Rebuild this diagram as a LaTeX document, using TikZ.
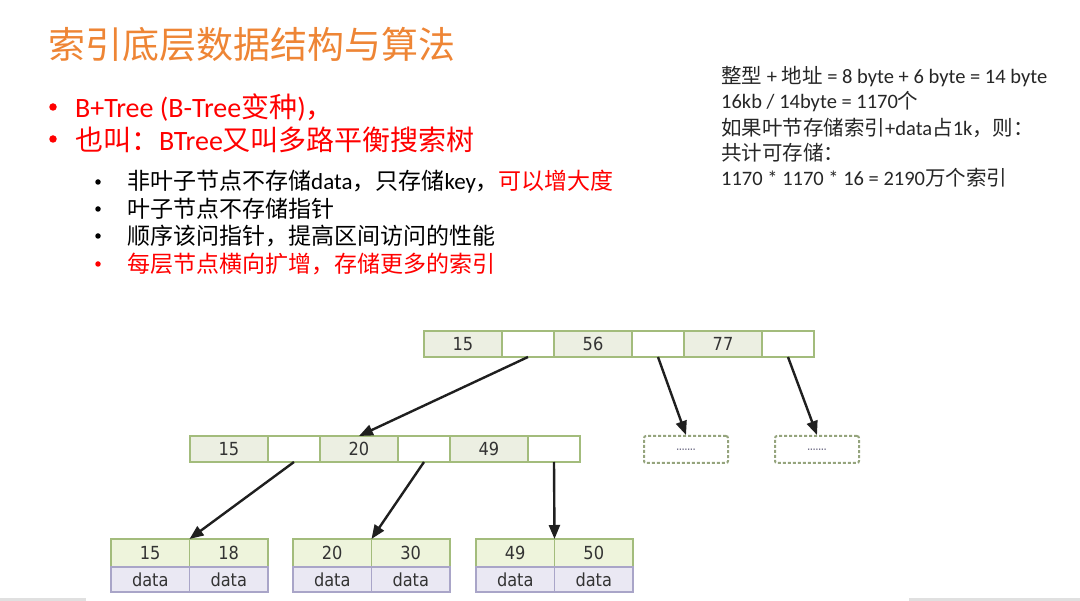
\documentclass[tikz,border=0pt]{standalone}
\usepackage{fontspec}
\setmainfont{Carlito}
\newfontfamily\cjk{Noto Sans CJK SC}
\newfontfamily\treefont{DejaVu Sans Condensed}
\usetikzlibrary{positioning, arrows.meta}

\definecolor{titleorange}{HTML}{EE8535}
\definecolor{keyfill}{HTML}{ECEFE2}
\definecolor{leaffill}{HTML}{EEF4DC}
\definecolor{datafill}{HTML}{EAE8F3}
\definecolor{treegreen}{HTML}{A3BC7C}
\definecolor{datalilac}{HTML}{A9A5C8}
\definecolor{treetext}{HTML}{333333}

\begin{document}
\begin{tikzpicture}[x=1pt, y=-1pt,
    cell/.style={draw=treegreen, line width=1.8pt, inner sep=0pt, outer sep=0pt,
      minimum height=26pt, font=\treefont\fontsize{18}{18}\selectfont, text=treetext},
    keycell/.style={cell, fill=keyfill, minimum width=78pt},
    ptrcell/.style={cell, fill=white, minimum width=52pt},
    leafkey/.style={cell, fill=leaffill, minimum width=78.5pt, minimum height=28pt},
    leafdata/.style={cell, draw=datalilac, fill=datafill, minimum width=78.5pt, minimum height=25pt},
    stub/.style={draw=treegreen!60!gray, line width=2pt, dash pattern=on 3pt off 2pt,
      rounded corners=2pt, minimum width=84pt, minimum height=27pt, inner sep=0pt,
      font=\treefont\bfseries\fontsize{8}{8}\selectfont, text=datalilac!70!black},
    link/.style={-{Triangle[length=14pt, width=11pt]}, line width=2.4pt, draw=black!88},
    bigdot/.style={circle, fill=red, inner sep=0pt, minimum size=7.5pt},
    smalldot/.style={circle, fill=black, inner sep=0pt, minimum size=5.5pt},
    head/.style={anchor=west, inner sep=0pt, font=\fontsize{28}{28}\selectfont, text=red},
    item/.style={anchor=west, inner sep=0pt, font=\fontsize{23}{23}\selectfont},
    note/.style={anchor=west, inner sep=0pt, font=\fontsize{20.5}{20.5}\selectfont, text=black!85}
  ]
  \useasboundingbox (0,0) rectangle (1080,601);
  \fill[black!12] (0,598) rectangle (86,601);
  \fill[black!12] (909,598) rectangle (1080,601);

  % title and bullets
  \node[anchor=west, inner sep=0pt, font=\cjk\fontsize{37}{37}\selectfont, text=titleorange] (title) at (48,45) {索引底层数据结构与算法};
  \node[bigdot] (d1) at (53,107) {};
  \node[bigdot] (d2) at (53,139) {};
  \node[head] (h1) at (75,108) {B+Tree (B-Tree{\cjk 变种}){\cjk ，}};
  \node[head] (h2) at (75,140) {{\cjk 也叫：}BTree{\cjk 又叫多路平衡搜索树}};
  \foreach \y [count=\i] in {182,209,236} {
    \node[smalldot] (s\i) at (98,\y) {};
  }
  \node[smalldot, fill=red] (s4) at (98,264) {};
  \node[item] (i1) at (127,182) {{\cjk 非叶子节点不存储}data{\cjk ，只存储}key{\cjk ，}{\cjk\color{red}可以增大度}};
  \node[item] (i2) at (127,209) {\cjk 叶子节点不存储指针};
  \node[item] (i3) at (127,236) {\cjk 顺序该问指针，提高区间访问的性能};
  \node[item, text=red] (i4) at (127,264) {\cjk 每层节点横向扩增，存储更多的索引};

  % right notes
  \node[note] (n1) at (721,77) {{\cjk 整型} + {\cjk 地址} = 8 byte + 6 byte = 14 byte};
  \node[note] (n2) at (721,102) {16kb / 14byte = 1170{\cjk 个}};
  \node[note] (n3) at (721,128) {{\cjk 如果叶节存储索引}+data{\cjk 占}1k{\cjk ，则：}};
  \node[note] (n4) at (721,153) {\cjk 共计可存储：};
  \node[note] (n5) at (721,178) {1170 * 1170 * 16 = 2190{\cjk 万个索引}};

  % root
  \node[keycell, anchor=north west] (r1) at (424,331) {15};
  \node[ptrcell, right=0pt of r1] (r2) {};
  \node[keycell, right=0pt of r2] (r3) {56};
  \node[ptrcell, right=0pt of r3] (r4) {};
  \node[keycell, right=0pt of r4] (r5) {77};
  \node[ptrcell, right=0pt of r5] (r6) {};

  % middle
  \node[keycell, anchor=north west] (m1) at (190,436) {15};
  \node[ptrcell, right=0pt of m1] (m2) {};
  \node[keycell, right=0pt of m2] (m3) {20};
  \node[ptrcell, right=0pt of m3] (m4) {};
  \node[keycell, right=0pt of m4] (m5) {49};
  \node[ptrcell, right=0pt of m5] (m6) {};

  \node[stub, anchor=north west] (t1) at (643,435) {.......};
  \node[stub, anchor=north west] (t2) at (774,435) {.......};

  % leaves
  \foreach \n/\x/\a/\b in {1/111/15/18, 2/293/20/30, 3/476/49/50} {
    \node[leafkey, anchor=north west] (l\n a) at (\x,539) {\a};
    \node[leafkey, right=0pt of l\n a] (l\n b) {\b};
    \node[leafdata, below=0pt of l\n a] (l\n c) {data};
    \node[leafdata, below=0pt of l\n b] (l\n d) {data};
  }

  \draw[link] (r2.south) -- (m3.north);
  \draw[link] (r4.south) -- (t1.north);
  \draw[link] (r6.south) -- (t2.north);
  \draw[link] (m2.south) -- (l1a.north east);
  \draw[link] (m4.south) -- (l2a.north east);
  \draw[link] (m6.south) -- (l3a.north east);
\end{tikzpicture}
\end{document}
